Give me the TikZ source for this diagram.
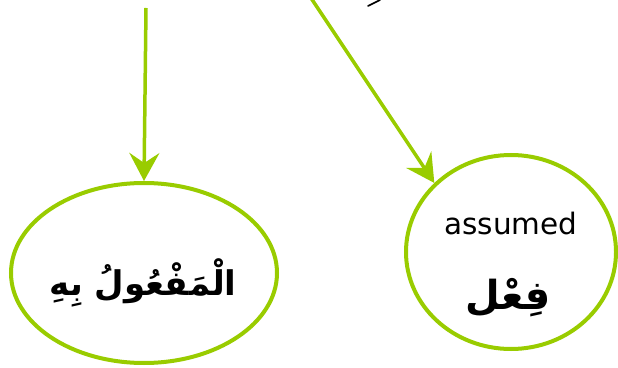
\documentclass[tikz,border=0pt]{standalone}
\usepackage{fontspec}
\setmainfont{DejaVu Sans}
\newfontfamily\arabicfont[Script=Arabic]{DejaVu Sans}
\TeXXeTstate=1
\usetikzlibrary{arrows.meta,shapes.geometric}
\definecolor{lime}{RGB}{153,204,0}
\tikzset{
  oval/.style={ellipse, draw=lime, line width=4pt, inner sep=0pt},
  link/.style={draw=lime, line width=3.5pt, -{Stealth[length=28pt,width=30pt,inset=10pt]}},
  label text/.style={inner sep=0pt},
}
\begin{document}
\begin{tikzpicture}[x=1pt,y=1pt]
\useasboundingbox (0,0) rectangle (618,367);
\node[oval, minimum width=266pt, minimum height=180pt] (L) at (144,94) {};
\node[oval, minimum width=210pt, minimum height=194pt] (R) at (511,115) {};
\node[label text] (Ltext) at (143,84) {\arabicfont\bfseries\fontsize{34}{40}\selectfont\beginR الْمَفْعُولُ بِهِ\endR};
\node[label text] (Rword) at (511,143) {\fontsize{29.5}{34}\selectfont assumed};
\node[label text] (Rtext) at (508,69) {\arabicfont\bfseries\fontsize{40}{46}\selectfont\beginR فِعْل\endR};
\coordinate (s1) at (146,359);
\coordinate (s2) at (309,372);
\draw[link] (s1) -- (L.north);
\draw[link] (s2) -- (R.138);
\draw[line width=1.6pt, line cap=round] (368,361) -- (380,367);
\end{tikzpicture}
\end{document}
